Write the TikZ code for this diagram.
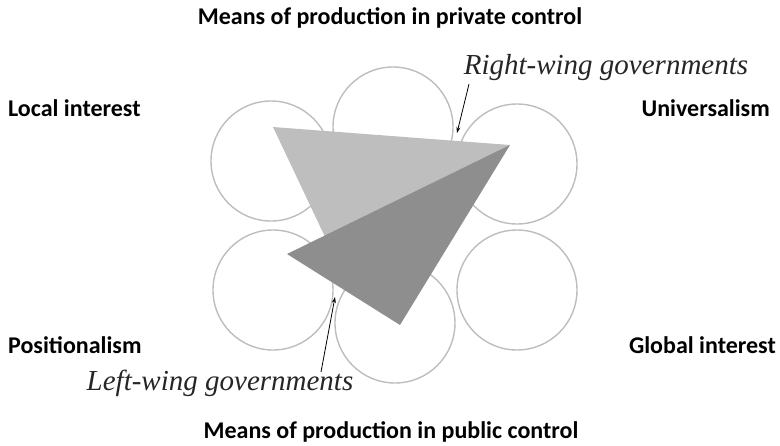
\documentclass[tikz,border=0pt]{standalone}
\usepackage{fontspec}
\setmainfont{Carlito}
\newfontfamily\handfont{Liberation Serif}
\usetikzlibrary{arrows.meta}
\definecolor{ringgray}{HTML}{BDBDBD}
\definecolor{lighttri}{HTML}{BEBEBE}
\definecolor{darktri}{HTML}{8E8E8E}
\tikzset{
  ring/.style={circle, draw=ringgray, line width=1.4pt, minimum size=120pt, inner sep=0pt},
  axislabel/.style={font=\fontsize{24}{26}\selectfont\bfseries, text=black, inner sep=0pt},
  scriptlabel/.style={font=\handfont\fontsize{29}{31}\selectfont\itshape, text=black!85, inner sep=0pt},
  pointer/.style={-{Stealth[length=6pt,width=4pt]}, line width=0.8pt, black}
}
\begin{document}
\begin{tikzpicture}[x=1pt,y=-1pt]
\useasboundingbox (0,0) rectangle (780,445);
% rings
\node[ring] (rt) at (393,127) {};
\node[ring] (rul) at (271,161) {};
\node[ring] (rur) at (517,164) {};
\node[ring] (rll) at (273,290) {};
\node[ring] (rlr) at (517,290) {};
\node[ring] (rb) at (395,323) {};
% triangles
\fill[lighttri] (273,127) -- (510,145) -- (335,258) -- cycle;
\fill[darktri] (287,254) -- (510,145) -- (400,325) -- cycle;
% axis labels
\node[axislabel] (top) at (390,18) {Means of production in private control};
\node[axislabel] (bot) at (391,432) {Means of production in public control};
\node[axislabel, anchor=west] (li) at (8,108) {Local interest};
\node[axislabel, anchor=east] (un) at (770,108) {Universalism};
\node[axislabel, anchor=west] (po) at (8,345) {Positionalism};
\node[axislabel, anchor=east] (gi) at (776,345) {Global interest};
% script labels
\node[scriptlabel] (rw) at (606,68) {Right-wing governments};
\node[scriptlabel] (lw) at (220,383) {Left-wing governments};
% pointers
\coordinate (rwstart) at (469,84);
\coordinate (rwtip) at (457,133);
\coordinate (lwstart) at (321,372);
\coordinate (lwtip) at (335,297);
\draw[pointer] (rwstart) -- (rwtip);
\draw[pointer] (lwstart) -- (lwtip);
\end{tikzpicture}
\end{document}
